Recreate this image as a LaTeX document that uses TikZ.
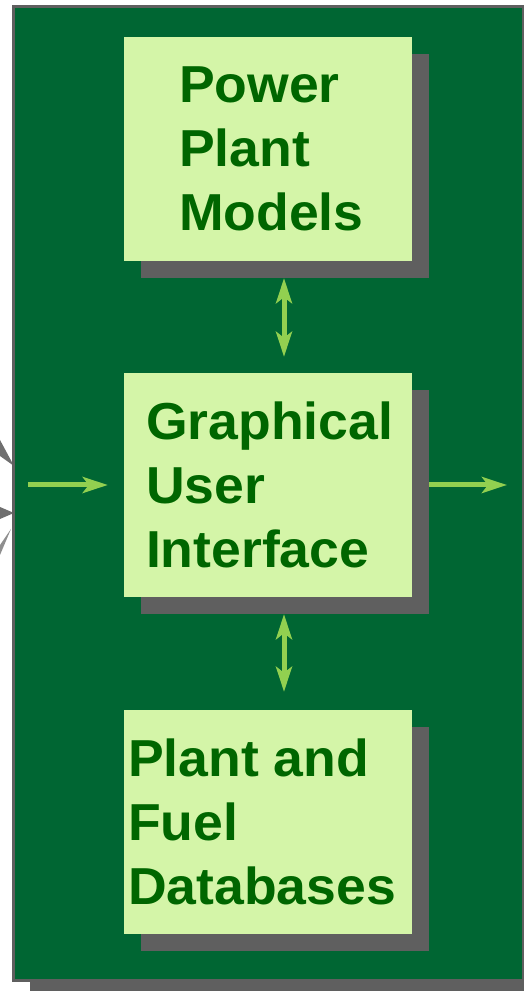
\documentclass[tikz,border=0pt]{standalone}
\usepackage{fontspec}
\setmainfont{Liberation Sans}[FakeStretch=1.03]
\usetikzlibrary{arrows.meta}

\definecolor{bggreen}{RGB}{0,102,51}
\definecolor{boxgreen}{RGB}{212,245,168}
\definecolor{txtgreen}{RGB}{0,102,0}
\definecolor{arrowgreen}{RGB}{146,208,80}
\definecolor{shadowgray}{RGB}{95,95,95}

\tikzset{
  module/.style={fill=boxgreen, minimum width=288pt, minimum height=224pt, inner sep=0pt,
    preaction={fill=shadowgray, transform canvas={shift={(17pt,-17pt)}}}},
  lbl/.style={anchor=west, align=left, inner sep=0pt, text=txtgreen,
    font=\fontsize{52}{64}\selectfont\bfseries},
  arr/.style={line width=5pt, draw=arrowgreen, -{Stealth[length=25pt,width=16pt,inset=6pt]}},
  dblarr/.style={arr, {Stealth[length=25pt,width=16pt,inset=6pt]}-{Stealth[length=25pt,width=16pt,inset=6pt]}}
}

\begin{document}
\begin{tikzpicture}[x=1pt,y=1pt]
\useasboundingbox (0,0) rectangle (524,991);
\clip (0,0) rectangle (524,991);

% bits of the burst behind the frame
\fill[shadowgray!90] (0,551) -- (0,535) -- (14,525) -- cycle;
\fill[shadowgray!90] (0,484) -- (0,472) -- (14,478) -- cycle;
\fill[shadowgray!70] (0,446) -- (0,436) -- (11,462) -- cycle;

% frame
\fill[shadowgray] (29.5,-5.5) rectangle (539.5,968.5);
\draw[fill=bggreen, draw=shadowgray, line width=3pt] (13.5,10.5) rectangle (523.5,984.5);

% boxes
\node[module] (pm) at (268,842) {};
\node[module] (gui) at (268,506) {};
\node[module] (db) at (268,169) {};

\node[lbl] (pmtext) at ([xshift=55pt]pm.west) {Power\\Plant\\Models};
\node[lbl] (guitext) at ([xshift=22pt]gui.west) {Graphical\\User\\Interface};
\node[lbl] (dbtext) at ([xshift=4pt]db.west) {Plant and\\Fuel\\Databases};

% arrows
\coordinate (in) at (28,506);
\coordinate (out) at (507,506);
\draw[arr] (in) -- ([xshift=-16pt]gui.west);
\draw[arr] ([xshift=17pt]gui.east) -- (out);
\draw[dblarr] ([xshift=16pt,yshift=-17pt]pm.south) -- ([xshift=16pt,yshift=16pt]gui.north);
\draw[dblarr] ([xshift=16pt,yshift=-17pt]gui.south) -- ([xshift=16pt,yshift=18pt]db.north);
\end{tikzpicture}
\end{document}
